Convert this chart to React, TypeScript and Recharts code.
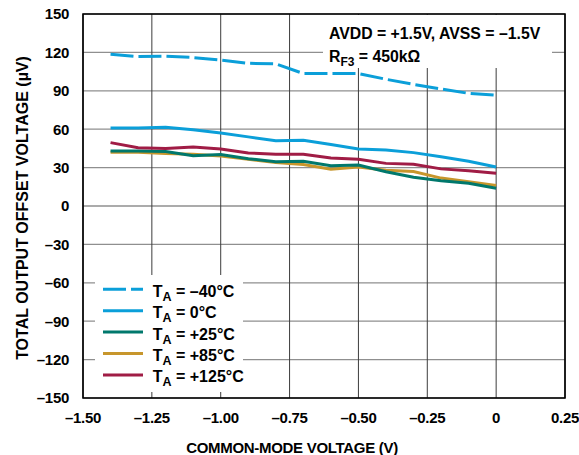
import { LineChart, Line, XAxis, YAxis, CartesianGrid, ReferenceArea } from 'recharts';

// common-mode voltage (V)
const volts = [-1.4, -1.3, -1.2, -1.1, -1.0, -0.9, -0.8, -0.7, -0.6, -0.5, -0.4, -0.3, -0.2, -0.1, 0];

// total output offset voltage (uV) per temperature
const tMinus40 = [118.5, 116.7, 117, 116, 114, 111.5, 111, 103.5, 103.5, 103.5, 99, 95, 91.5, 88, 86.5];
const t0 = [61, 61, 61.5, 59.5, 57, 54, 51, 51.3, 48, 44.5, 43.7, 41.7, 38.5, 35, 30.5];
const t25 = [43, 43, 42.5, 39.3, 40.3, 37, 34.5, 35, 31.5, 32, 26.8, 22.4, 19.8, 17.7, 13.8];
const t85 = [42, 42, 41, 40.5, 39, 36.5, 34, 32.5, 28.7, 30.5, 28, 27, 21.8, 19, 16];
const t125 = [49.5, 45.5, 45, 46, 44.5, 41.5, 40.5, 40.5, 37.5, 36.5, 33.3, 32.6, 29, 27.6, 25.5];

const xTicks = [-1.5, -1.25, -1.0, -0.75, -0.5, -0.25, 0, 0.25];
const yTicks = [-150, -120, -90, -60, -30, 0, 30, 60, 90, 120, 150];

const series = [
  { key: 'm40', label: '\u201340\u00b0C', color: '#0b9fd9', dash: '23 5' },
  { key: 't0', label: '0\u00b0C', color: '#0b9fd9', dash: undefined },
  { key: 't25', label: '+25\u00b0C', color: '#00786c', dash: undefined },
  { key: 't85', label: '+85\u00b0C', color: '#c7962c', dash: undefined },
  { key: 't125', label: '+125\u00b0C', color: '#a01c45', dash: undefined },
];
// teal is drawn over gold in the original
const drawOrder = ['m40', 't0', 't85', 't25', 't125'];

const rows = volts.map((v, i) => ({
  v, m40: tMinus40[i], t0: t0[i], t25: t25[i], t85: t85[i], t125: t125[i],
}));

const FONT = '"Liberation Sans", Arial, Helvetica, sans-serif';

const dashFmt = (n: number, digits: number) =>
  n === 0 ? '0' : (n < 0 ? '\u2013' : '') + Math.abs(n).toFixed(digits);

const tickStyle = { fill: '#000', fontSize: 15, fontWeight: 700, fontFamily: FONT, letterSpacing: -0.3 };

export default function App() {
  return (
    <div style={{ position: 'absolute', left: 0, top: 0, width: 579, height: 455, background: '#fff' }}>
      <LineChart width={579} height={455} data={rows} margin={{ top: 14, right: 14, bottom: 0, left: 0 }}>
        <CartesianGrid horizontal vertical={false} stroke="#8f8f8f" strokeWidth={1.3} />
        <CartesianGrid horizontal={false} vertical stroke="#3c3c3c" strokeWidth={1} />
        <XAxis
          dataKey="v" type="number" domain={[-1.5, 0.25]} ticks={xTicks} interval={0}
          height={57} tickLine={false} axisLine={false} tickSize={0} tickMargin={14}
          tick={tickStyle} tickFormatter={(n: number) => dashFmt(n, 2)}
          label={(p: any) => {
            const vb = p.viewBox;
            return (
              <text x={vb.x + vb.width / 2 - 32} y={452.5} textAnchor="middle"
                style={{ fontSize: 15, fontWeight: 700, fontFamily: FONT, letterSpacing: -0.3 }} fill="#000">
                COMMON-MODE VOLTAGE (V)
              </text>
            );
          }}
        />
        <YAxis
          type="number" domain={[-150, 150]} ticks={yTicks} interval={0} width={83}
          tickLine={false} axisLine={false} tickSize={0} tickMargin={14}
          tick={tickStyle} tickFormatter={(n: number) => dashFmt(n, 0)}
          label={(p: any) => {
            const vb = p.viewBox;
            const cx = vb.x + 28;
            const cy = vb.y + vb.height / 2 + 2;
            return (
              <text x={cx} y={cy} transform={`rotate(-90 ${cx} ${cy})`} textAnchor="middle"
                style={{ fontSize: 16, fontWeight: 700, fontFamily: FONT }} fill="#000">
                TOTAL OUTPUT OFFSET VOLTAGE ({'\u00b5'}V)
              </text>
            );
          }}
        />
        <ReferenceArea x1={-1.5} x2={0.25} y1={-150} y2={150} fill="none" stroke="#000" strokeWidth={1.6} />
        {drawOrder.map(k => {
          const s = series.find(x => x.key === k)!;
          return (
            <Line key={k} type="linear" dataKey={k} stroke={s.color} strokeWidth={3}
              strokeDasharray={s.dash} dot={false} isAnimationActive={false} />
          );
        })}
      </LineChart>

      {/* annotation + legend boxes (white backgrounds hide the grid) */}
      <svg width={579} height={455} style={{ position: 'absolute', left: 0, top: 0, pointerEvents: 'none' }}
        fontFamily={FONT} fontWeight={700}>
        <rect x={323} y={15} width={229} height={53} fill="#fff" />
        <text x={329} y={39.3} fontSize={15.8} fill="#000">AVDD = +1.5V, AVSS = {'\u2013'}1.5V</text>
        <text x={329} y={61.5} fontSize={15.8} fill="#000">
          R<tspan fontSize={12} dy={4}>F3</tspan><tspan dy={-4}> = 450k{'\u03a9'}</tspan>
        </text>

        <rect x={95} y={275} width={148} height={117} fill="#fff" />
        {series.map((s, i) => {
          const y = 289.3 + i * 21.4;
          return (
            <g key={s.key}>
              <line x1={103} x2={143} y1={y} y2={y} stroke={s.color} strokeWidth={3} strokeDasharray={s.dash} />
              <text x={152.7} y={y + 7.4} fontSize={16} fill="#000">
                T<tspan fontSize={12.5} dy={4}>A</tspan><tspan dy={-4}> = {s.label}</tspan>
              </text>
            </g>
          );
        })}
      </svg>
    </div>
  );
}
